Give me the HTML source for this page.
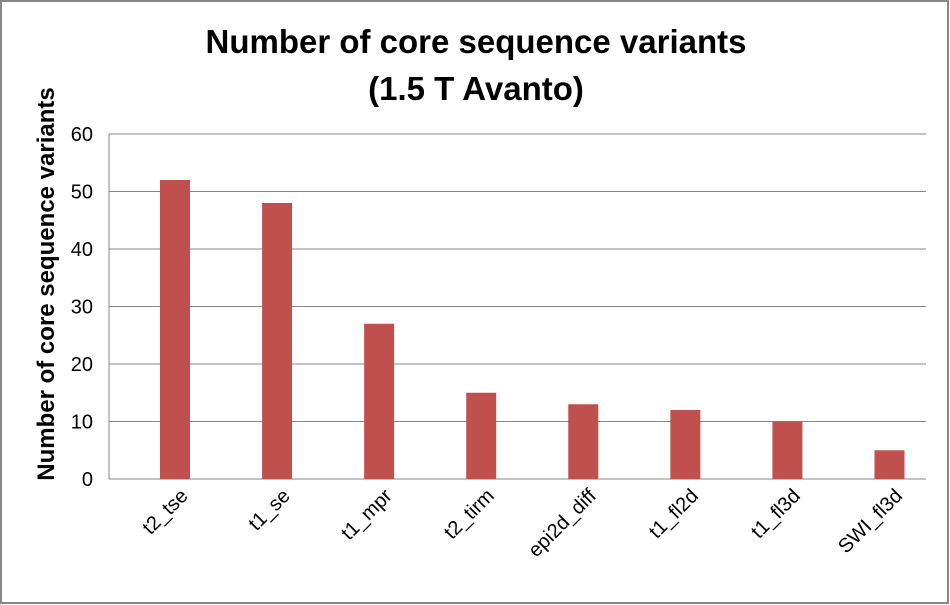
<!DOCTYPE html>
<html><head><meta charset="utf-8"><style>
body{margin:0;background:#fff;}
svg{display:block;font-family:"Liberation Sans",sans-serif;}
</style></head><body>
<svg id="chart" width="950" height="605">
<rect x="1" y="1" width="947" height="602" fill="#fff" stroke="#878787" stroke-width="2"/>
<text x="476" y="53" text-anchor="middle" font-size="33" font-weight="bold">Number of core sequence variants</text>
<text x="476" y="100" text-anchor="middle" font-size="33" font-weight="bold">(1.5 T Avanto)</text>
<text transform="translate(54,284) rotate(-90)" text-anchor="middle" font-size="24" font-weight="bold">Number of core sequence variants</text>
<g id="grid"></g><g id="bars"></g><g id="labels"></g>
</svg>
<script>
const categories=["t2_tse","t1_se","t1_mpr","t2_tirm","epi2d_diff","t1_fl2d","t1_fl3d","SWI_fl3d"];
const values=[52,48,27,15,13,12,10,5];
const ticks=[0,10,20,30,40,50,60];
const NS="http://www.w3.org/2000/svg";
const pLeft=109,pRight=926,pTop=134,pBottom=479,yMax=60;
const yScale=v=>pBottom-(v/yMax)*(pBottom-pTop);
const band=102.07,firstCenter=175;
const xScale=i=>firstCenter+i*band;
const barW=30;
function mk(t,a){const e=document.createElementNS(NS,t);for(const k in a)e.setAttribute(k,a[k]);return e;}
const grid=document.getElementById('grid'),bars=document.getElementById('bars'),labels=document.getElementById('labels');
ticks.forEach(t=>{
  const l=mk('line',{x1:pLeft,x2:pRight,y1:yScale(t),y2:yScale(t),stroke:'#878787','stroke-width':1});
  
  
  grid.appendChild(l);
  const tx=mk('text',{x:pLeft-16,y:yScale(t)+7,'text-anchor':'end','font-size':20,fill:'#000'});
  tx.textContent=t;
  
  
  grid.appendChild(tx);
});
const ax=mk('line',{x1:pLeft,x2:pLeft,y1:pTop,y2:pBottom,stroke:'#878787','stroke-width':1});


grid.appendChild(ax);
categories.forEach((c,i)=>{
  const r=mk('rect',{x:xScale(i)-barW/2,y:yScale(values[i]),width:barW,height:pBottom-yScale(values[i]),fill:'#c0504d'});
  
  
  bars.appendChild(r);
  const t=mk('text',{transform:`translate(${xScale(i)+14},${pBottom+18}) rotate(-45)`,'text-anchor':'end','font-size':20});
  t.textContent=c;
  
  
  labels.appendChild(t);
});
</script>
</body></html>
